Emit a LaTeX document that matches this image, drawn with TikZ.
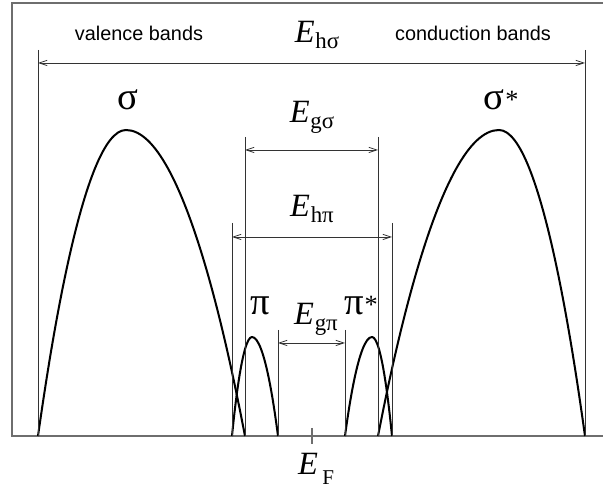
\documentclass[tikz,border=0pt]{standalone}
\usepackage{fontspec}
\setmainfont{Liberation Serif}
\newfontfamily\bandfont{Liberation Sans}
\usetikzlibrary{arrows.meta}
\definecolor{Frame}{HTML}{6E6E6E}
\definecolor{Guide}{HTML}{333333}
\newcommand{\Elab}[1]{\textit{E}\kern0.4pt\raisebox{-3.2pt}{\fontsize{13}{13}\selectfont #1}}
\newcommand{\starred}[1]{#1\kern0.5pt\raisebox{1pt}{\fontsize{15}{15}\selectfont *}}

\begin{document}
\begin{tikzpicture}[x=0.02cm,y=-0.02cm,
    band/.style={line width=1.15pt,line join=round},
    guide/.style={Guide,line width=0.45pt},
    dim/.style={guide,{Straight Barb[length=4.5pt,width=3pt]}-{Straight Barb[length=4.5pt,width=3pt]}},
    lab/.style={anchor=base,inner sep=0pt,font=\fontsize{18.5}{18.5}\selectfont},
    greek/.style={anchor=base,inner sep=0pt,font=\fontsize{22}{22}\selectfont},
    side/.style={anchor=base,inner sep=0pt,font=\bandfont\fontsize{11.3}{11.3}\selectfont}]
    \useasboundingbox (0,0) rectangle (603,492);
    % frame, energy axis and Fermi tick
    \draw[Frame,line width=0.7pt] (603,3) -- (12,3) -- (12,436) -- (603,436);
    \draw[Frame,line width=0.6pt] (312,428) -- (312,444);
    % density of states of the four bands
    \foreach \a/\p/\h/\b in {38/126/130/245, 378/499/130/585, 232/252/337/278, 345/372/337/392}
      \draw[band] (\a,436) parabola bend (\p,\h) (\b,436);
    % band widths and gaps
    \foreach \n/\l/\r/\t/\y in {hs/38/585/50/63, gs/245/378/137/150, hp/232/392/223/237, gp/278/345/330/343}{
      \draw[guide] (\l,\t) -- (\l,436) (\r,\t) -- (\r,436);
      \coordinate (\n-l) at (\l,\y);
      \coordinate (\n-r) at (\r,\y);
      \draw[dim] (\n-l) -- (\n-r);
    }
    \node[side] (valence) at (139,41) {valence bands};
    \node[side] (conduction) at (473,41) {conduction bands};
    \node[lab] (Ehs) at (317,43) {\Elab{hσ}};
    \node[lab] (Egs) at (312,123) {\Elab{gσ}};
    \node[lab] (Ehp) at (312,217) {\Elab{hπ}};
    \node[lab] (Egp) at (316,325) {\Elab{gπ}};
    \node[lab] (EF) at (316,475) {\textit{E}\kern2.5pt\raisebox{-5.5pt}{\fontsize{12}{12}\selectfont F}};
    \node[greek] (sigma) at (128,110) {σ};
    \node[greek] (sigmastar) at (501,110) {\starred{σ}};
    \node[greek] (pi) at (260,315) {π};
    \node[greek] (pistar) at (361,315) {\starred{π}};
\end{tikzpicture}
\end{document}
